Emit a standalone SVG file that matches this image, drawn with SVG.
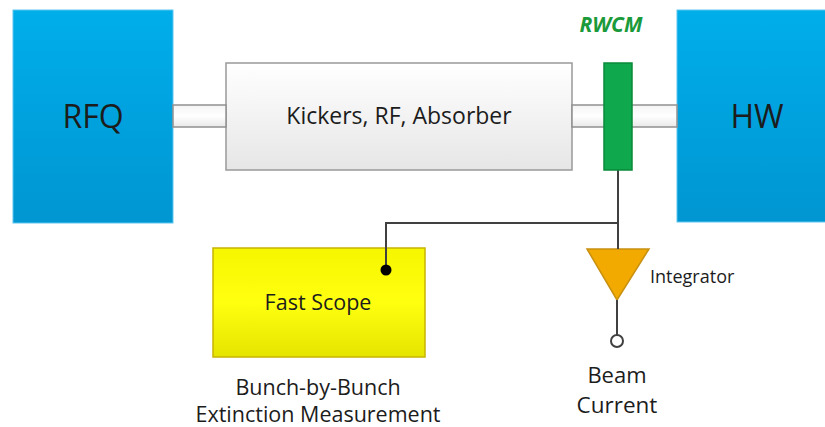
<svg xmlns="http://www.w3.org/2000/svg" width="825" height="427" viewBox="0 0 825 427">
<defs>
<linearGradient id="gBlue" x1="0" y1="0" x2="0" y2="1"><stop offset="0" stop-color="#00aeea"/><stop offset="1" stop-color="#0096d2"/></linearGradient>
<linearGradient id="gGrey" x1="0" y1="0" x2="0" y2="1"><stop offset="0" stop-color="#ffffff"/><stop offset="1" stop-color="#e6e6e6"/></linearGradient>
<linearGradient id="gPipe" x1="0" y1="0" x2="0" y2="1"><stop offset="0" stop-color="#f4f4f4"/><stop offset="0.5" stop-color="#ffffff"/><stop offset="1" stop-color="#e8e8e8"/></linearGradient>
<linearGradient id="gYellow" x1="0" y1="0" x2="0" y2="1"><stop offset="0" stop-color="#f6f600"/><stop offset="0.5" stop-color="#ffff10"/><stop offset="1" stop-color="#e4e400"/></linearGradient>
<style>
text{font-family:"Open Sans","Liberation Sans",sans-serif;fill:#1c1c1c}
.big{font-size:32px;text-anchor:middle}
.mid{font-size:21.5px;text-anchor:middle}
.wire{stroke:#404040;stroke-width:2;fill:none}
</style>
</defs>
<g id="rfq">
<rect x="13" y="10" width="160" height="213" fill="url(#gBlue)" stroke="#5cc6f0" stroke-width="1"/>
<text class="big" x="93" y="128">RFQ</text>
</g>
<g id="kickers">
<rect x="226" y="63" width="346" height="107" fill="url(#gGrey)" stroke="#999" stroke-width="1.5"/>
<text class="mid" x="399" y="124" style="font-size:23px">Kickers, RF, Absorber</text>
</g>
<g id="hw">
<rect x="677" y="10" width="160" height="212" fill="url(#gBlue)" stroke="#5cc6f0" stroke-width="1"/>
<text class="big" x="757" y="128">HW</text>
</g>
<g id="fastscope">
<rect x="213" y="248" width="212" height="109" fill="url(#gYellow)" stroke="#c8b400" stroke-width="1.5"/>
<text class="mid" x="318" y="310">Fast Scope</text>
<text class="mid" x="318" y="395">Bunch-by-Bunch</text>
<text class="mid" x="318" y="422">Extinction Measurement</text>
</g>
<g id="integrator">
<polygon points="587,249 649,249 617,300" fill="#f2aa00" stroke="#c89010" stroke-width="1.5"/>
<text x="650" y="283" style="font-size:18px">Integrator</text>
<text class="mid" x="617" y="383" style="font-size:22px">Beam</text>
<text class="mid" x="617" y="413" style="font-size:22.5px">Current</text>
</g>
<g id="connectors">
<rect x="173" y="105" width="53" height="22" fill="url(#gPipe)" stroke="#909090" stroke-width="1.5"/>
<rect x="572" y="105" width="105" height="22" fill="url(#gPipe)" stroke="#909090" stroke-width="1.5"/>
<path class="wire" d="M618 170 V249"/>
<path class="wire" d="M618 223 H386 V270"/>
<circle cx="386" cy="270" r="5.5" fill="#000"/>
<path class="wire" d="M617 300 V335"/>
<circle cx="617" cy="341" r="6" fill="#fff" stroke="#404040" stroke-width="2"/>
</g>
<g id="rwcm">
<rect x="604" y="63" width="28" height="107" fill="#10a84c" stroke="#0a8a3a" stroke-width="1.5"/>
<text x="611" y="32" style="font-size:21px;font-weight:bold;font-style:italic;fill:#1a9a3a;text-anchor:middle">RWCM</text>
</g>
</svg>
